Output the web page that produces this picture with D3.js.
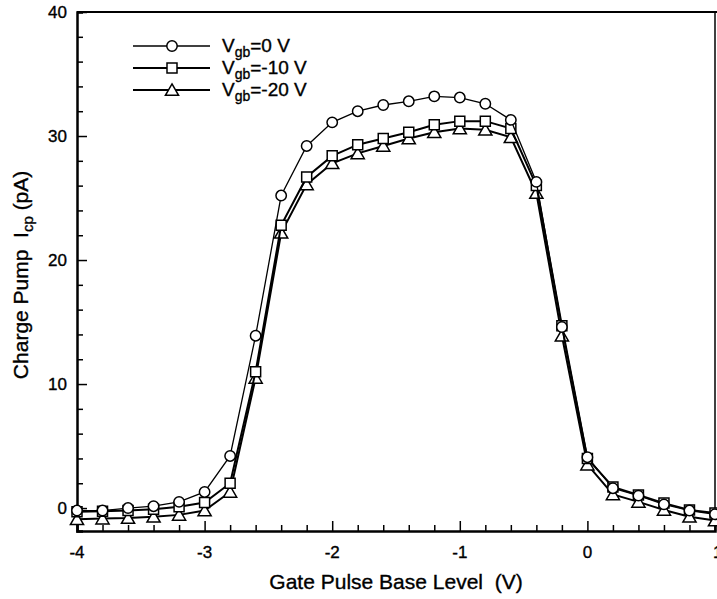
<!DOCTYPE html>
<html lang="en">
<head>
  <meta charset="UTF-8">
  <title>Charge Pump Current</title>
  <script src="https://d3js.org/d3.v7.min.js"></script>
  <style>
    body { margin: 0; background: #fff; }
    text { font-family: "Liberation Sans", Arial, sans-serif; fill: #000; stroke: #000; stroke-width: 0.35px; }
  </style>
</head>
<body>
  <div id="chart"></div>
  <script>
    // gate pulse base level (V)
    const baseLevel = [-4, -3.8, -3.6, -3.4, -3.2, -3, -2.8, -2.6, -2.4, -2.2, -2, -1.8, -1.6,
      -1.4, -1.2, -1, -0.8, -0.6, -0.4, -0.2, 0, 0.2, 0.4, 0.6, 0.8, 1];

    // Icp (pA) for each Vgb
    const vgb0 = [-0.2, -0.2, 0, 0.15, 0.5, 1.3, 4.2, 13.9, 25.2, 29.2, 31.1, 32.0, 32.5,
      32.8, 33.2, 33.1, 32.6, 31.3, 26.3, 14.6, 4.1, 1.6, 1.0, 0.3, -0.2, -0.5];
    const vgb10 = [-0.3, -0.25, -0.2, -0.1, 0.1, 0.45, 2.0, 11.0, 22.8, 26.7, 28.4, 29.3, 29.8,
      30.3, 30.9, 31.2, 31.2, 30.6, 26.0, 14.7, 4.0, 1.7, 1.05, 0.4, -0.15, -0.4];
    const vgb20 = [-0.9, -0.85, -0.8, -0.7, -0.55, -0.2, 1.3, 10.5, 22.2, 26.1, 27.8, 28.6, 29.2,
      29.8, 30.3, 30.6, 30.5, 29.9, 25.4, 13.9, 3.5, 1.1, 0.5, -0.15, -0.7, -1.0];

    const seriesNames = ["=0 V", "=-10 V", "=-20 V"];
    const xTicks = [-4, -3, -2, -1, 0, 1];
    const yTicks = [0, 10, 20, 30, 40];

    const series = [
      { name: seriesNames[0], values: vgb0, marker: "circle", lw: 1.3 },
      { name: seriesNames[1], values: vgb10, marker: "square", lw: 2 },
      { name: seriesNames[2], values: vgb20, marker: "triangle", lw: 2 }
    ];

    const W = 717, H = 599;
    const margin = { top: 12, right: 2, bottom: 68, left: 77 };
    const width = W - margin.left - margin.right;
    const height = H - margin.top - margin.bottom;

    const svg = d3.select("#chart").append("svg")
      .attr("width", W)
      .attr("height", H);

    const g = svg.append("g")
      .attr("transform", `translate(${margin.left},${margin.top})`);

    const x = d3.scaleLinear().domain([-4, 1]).range([0, width]);
    const y = d3.scaleLinear().domain([-1.85, 40]).range([height, 0]);

    // frame
    g.append("line").attr("x1", 0).attr("x2", width + 2).attr("y1", 0).attr("y2", 0)
      .attr("stroke", "#000").attr("stroke-width", 2);
    g.append("line").attr("x1", width).attr("x2", width).attr("y1", 0).attr("y2", height)
      .attr("stroke", "#000").attr("stroke-width", 1.5);

    // x axis, ticks pointing inward
    const xAxis = g.append("g")
      .attr("transform", `translate(0,${height})`)
      .call(d3.axisBottom(x).tickValues(d3.range(-4, 1.01, 0.2)).tickSize(-6).tickFormat(""));
    xAxis.selectAll(".tick line").attr("stroke-width", 1.5);
    xAxis.selectAll(".tick").filter(d => Math.abs(d - Math.round(d)) < 1e-6)
      .select("line").attr("y2", -10);
    xAxis.select(".domain").attr("stroke-width", 2.5);
    g.append("g").selectAll("text")
      .data(xTicks)
      .enter().append("text")
      .attr("x", d => x(d))
      .attr("y", height + 27)
      .attr("text-anchor", d => d === 1 ? "start" : "middle")
      .attr("dx", d => d === 1 ? -2 : 0)
      .style("font-size", "17px")
      .text(d => d);

    // y axis
    const yAxis = g.append("g")
      .call(d3.axisLeft(y).tickValues(d3.range(0, 40.01, 2)).tickSize(-6).tickFormat(""));
    yAxis.selectAll(".tick line").attr("stroke-width", 1.5);
    yAxis.selectAll(".tick").filter(d => d % 10 === 0)
      .select("line").attr("x2", 10);
    yAxis.select(".domain").attr("stroke-width", 2.5);
    g.append("g").selectAll("text")
      .data(yTicks)
      .enter().append("text")
      .attr("x", -10)
      .attr("y", d => y(d))
      .attr("dy", "0.36em")
      .attr("text-anchor", "end")
      .style("font-size", "17px")
      .text(d => d);

    // axis titles
    g.append("text")
      .attr("x", x(-1.5))
      .attr("y", height + 58)
      .attr("text-anchor", "middle")
      .style("font-size", "21px")
      .attr("xml:space", "preserve")
      .text("Gate Pulse Base Level  (V)");

    const yTitle = g.append("text")
      .attr("transform", `translate(-49,${y(18.8)}) rotate(-90)`)
      .attr("text-anchor", "middle")
      .style("font-size", "21px")
      .attr("xml:space", "preserve");
    yTitle.append("tspan").text("Charge Pump  I");
    yTitle.append("tspan").attr("dy", 5).style("font-size", "15px").text("cp");
    yTitle.append("tspan").attr("dy", -5).text(" (pA)");

    const symbols = {
      circle: d3.symbol().type(d3.symbolCircle).size(85),
      square: d3.symbol().type(d3.symbolSquare).size(100),
      triangle: d3.symbol().type(d3.symbolTriangle).size(75)
    };

    const line = d3.line()
      .x(d => x(d[0]))
      .y(d => y(d[1]));

    series.slice().reverse().forEach(s => {
      const pts = baseLevel.map((b, i) => [b, s.values[i]]);
      g.append("path")
        .datum(pts)
        .attr("fill", "none")
        .attr("stroke", "#000")
        .attr("stroke-width", s.lw)
        .attr("d", line);
      g.selectAll(null)
        .data(pts)
        .enter().append("path")
        .attr("d", symbols[s.marker])
        .attr("transform", d => `translate(${x(d[0])},${y(d[1]) + (s.marker === "triangle" ? 1.5 : 0)})`)
        .attr("fill", "#fff")
        .attr("stroke", "#000")
        .attr("stroke-width", 1.5);
    });

    // legend
    const legend = g.append("g")
      .attr("transform", "translate(56,34)")
      .selectAll("g")
      .data(series)
      .enter().append("g")
      .attr("transform", (d, i) => `translate(0,${i * 22})`);

    legend.append("line")
      .attr("x1", 0).attr("x2", 77)
      .attr("stroke", "#000")
      .attr("stroke-width", d => d.lw);
    legend.append("path")
      .attr("d", d => symbols[d.marker]())
      .attr("transform", d => `translate(39,${d.marker === "triangle" ? 1.5 : 0})`)
      .attr("fill", "#fff")
      .attr("stroke", "#000")
      .attr("stroke-width", 1.5);
    const lt = legend.append("text")
      .attr("x", 89)
      .attr("y", 6)
      .style("font-size", "19px");
    lt.append("tspan").text("V");
    lt.append("tspan").attr("dy", 5).style("font-size", "14px").text("gb");
    lt.append("tspan").attr("dy", -5).text(d => d.name);
  </script>
</body>
</html>
